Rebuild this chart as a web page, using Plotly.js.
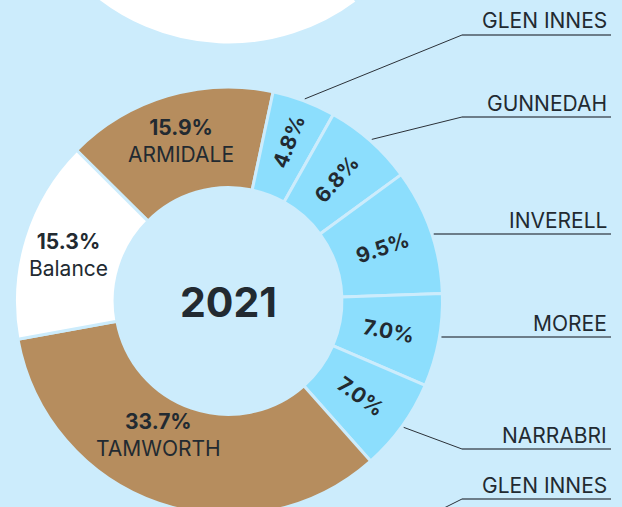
<!DOCTYPE html>
<html>
<head>
<meta charset="utf-8">
<script src="https://cdn.plot.ly/plotly-3.0.1.min.js"></script>
<style>
  html, body { margin: 0; padding: 0; overflow: hidden; background: #ccecfc; }
  #plotDiv { margin-top: -400px; }
</style>
</head>
<body>
<div id="plotDiv"></div>
<script>
// 2021 share by town (percent), clockwise from the top-left
const towns = ['ARMIDALE', 'GLEN INNES', 'GUNNEDAH', 'INVERELL', 'MOREE', 'NARRABRI', 'TAMWORTH', 'Balance'];
const shares2021 = [15.9, 4.8, 6.8, 9.5, 7.0, 7.0, 33.7, 15.3];
const yearLabel = '2021';

// previous donut above, only its bottom edge shows (estimated)
const prevTowns = ['TAMWORTH', 'Balance', 'Other towns'];
const prevShares = [34.0, 22.0, 44.0];

// towns printed horizontally with their name inside the ring
const namedInside = ['ARMIDALE', 'TAMWORTH', 'Balance'];
// callouts on the right
const calloutTowns = ['GLEN INNES', 'GUNNEDAH', 'INVERELL', 'MOREE', 'NARRABRI'];
const nextCalloutTown = 'GLEN INNES';

// ---- layout (pixels in the 622x507 view) ----
const W = 622, H = 920, SHIFT = 400;
const cx = 228.5, cy = 301, R = 214, HOLE = 0.53;
const prevCy = -169;
const rotation = -45.2;
const prevRotation = 20.6;
const calloutLineY = [35, 117, 234, 337, 449];
const elbowX = 462, lineEndX = 611, textRightX = 609;
const namedRadius = 165;
const namedNudge = {ARMIDALE: [0, -2], Balance: [-2, 3], TAMWORTH: [-16, -22]};

const BG = '#ccecfc', BROWN = '#b68d5e', LIGHT = '#8cdefd', INK = '#222a31';
const FONT = 'Inter, "Noto Sans", sans-serif';

const px = x => x / W;
const py = y => 1 - (y + SHIFT) / H;
const domainFor = centerY => ({
    x: [px(cx - R), px(cx + R)],
    y: [py(centerY + R), py(centerY - R)]
});

function colourOf(town) {
    if (town === 'Balance') return '#ffffff';
    if (town === 'ARMIDALE' || town === 'TAMWORTH') return BROWN;
    return LIGHT;
}

const pct = v => '<b>' + v.toFixed(1) + '%</b>';

const ringTrace = {
    type: 'pie',
    labels: towns,
    values: shares2021,
    hole: HOLE,
    sort: false,
    direction: 'clockwise',
    rotation: rotation,
    domain: domainFor(cy),
    marker: {colors: towns.map(colourOf), line: {color: BG, width: 3}},
    text: towns.map((t, i) => namedInside.includes(t) ? '' : pct(shares2021[i])),
    textinfo: 'text',
    textposition: 'inside',
    insidetextorientation: 'radial',
    insidetextfont: {family: FONT, size: 21, color: INK},
    hoverinfo: 'skip',
    title: {text: yearLabel, position: 'middle center', font: {family: FONT, size: 41, color: INK, weight: 700}}
};

const prevTrace = {
    type: 'pie',
    labels: prevTowns,
    values: prevShares,
    hole: HOLE,
    sort: false,
    direction: 'clockwise',
    rotation: prevRotation,
    domain: domainFor(prevCy),
    marker: {colors: prevTowns.map(colourOf), line: {color: BG, width: 3}},
    textinfo: 'none',
    hoverinfo: 'skip'
};

// slice middles, from the same values the pie uses
const total = shares2021.reduce((a, b) => a + b, 0);
const midAngle = {};
let cum = 0;
towns.forEach((t, i) => {
    midAngle[t] = rotation + 360 * (cum + shares2021[i] / 2) / total;
    cum += shares2021[i];
});

const shapes = [];
const annotations = [];
const line = (x0, y0, x1, y1, color, width) => ({
    type: 'line', xref: 'paper', yref: 'paper',
    x0: px(x0), y0: py(y0), x1: px(x1), y1: py(y1),
    line: {color: color, width: width}
});
const label = (text, y) => ({
    text: text, xref: 'paper', yref: 'paper', x: px(textRightX), y: py(y - 14),
    xanchor: 'right', yanchor: 'middle', showarrow: false,
    font: {family: FONT, size: 21, color: INK}
});

// big slices: value and name, horizontal
namedInside.forEach(t => {
    const i = towns.indexOf(t);
    const a = midAngle[t] * Math.PI / 180;
    const nx = cx + namedRadius * Math.sin(a) + namedNudge[t][0];
    const ny = cy - namedRadius * Math.cos(a) + namedNudge[t][1];
    annotations.push({
        text: pct(shares2021[i]) + '<br>' + t,
        xref: 'paper', yref: 'paper', x: px(nx), y: py(ny),
        xanchor: 'center', yanchor: 'middle', showarrow: false,
        font: {family: FONT, size: 21, color: INK}
    });
});

// leader lines to the labels on the right
calloutTowns.forEach((t, k) => {
    const a = midAngle[t] * Math.PI / 180;
    const sx = cx + (R + 2) * Math.sin(a);
    const sy = cy - (R + 2) * Math.cos(a);
    const ly = calloutLineY[k];
    if (Math.abs(sy - ly) < 12) {
        const ex = cx + Math.sqrt(R * R - (ly - cy) * (ly - cy)) + 2;
        shapes.push(line(ex, ly, lineEndX, ly, '#4d5963', 1.5));
    } else {
        shapes.push(line(sx, sy, elbowX, ly, '#2b3138', 1));
        shapes.push(line(elbowX, ly, lineEndX, ly, '#4d5963', 1.5));
    }
    annotations.push(label(t, ly));
});

// callout of the next donut, below the view
shapes.push(line(elbowX, 499, lineEndX, 499, '#4d5963', 1.5));
shapes.push(line(elbowX, 499, 436, 512, '#2b3138', 1));
annotations.push(label(nextCalloutTown, 499));

const layout = {
    width: W,
    height: H,
    margin: {l: 0, r: 0, t: 0, b: 0},
    paper_bgcolor: BG,
    plot_bgcolor: BG,
    showlegend: false,
    shapes: shapes,
    annotations: annotations
};

Plotly.newPlot('plotDiv', [prevTrace, ringTrace], layout, {staticPlot: true}).catch(error => {
    console.error('Error in plot:', error);
});
</script>
</body>
</html>
